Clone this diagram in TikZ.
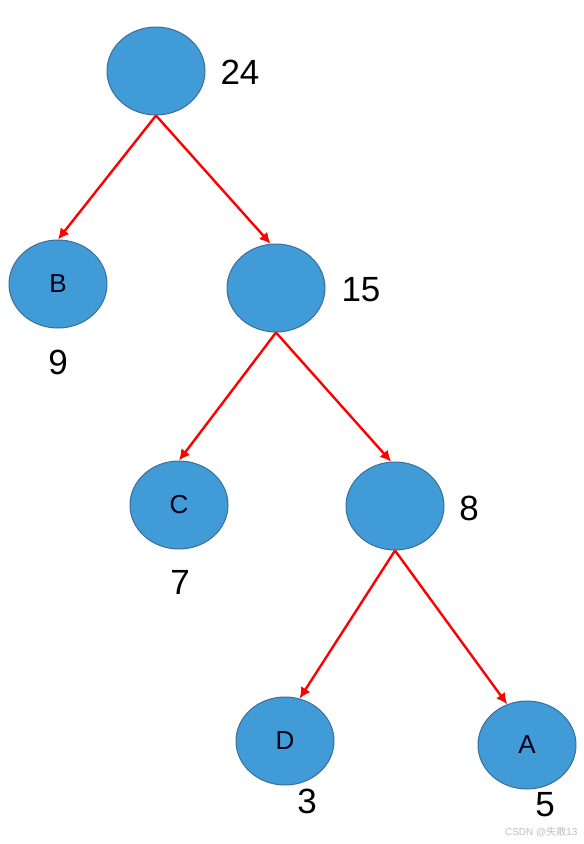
\documentclass[tikz,border=0pt]{standalone}
\usepackage{fontspec}
\setmainfont{Liberation Sans}
\newfontfamily\cjk{Noto Sans CJK SC}
\usetikzlibrary{shapes.geometric, arrows.meta}
\definecolor{knotblue}{HTML}{409BD7}
\definecolor{knotedge}{HTML}{3A6E98}
\tikzset{
  knot/.style={ellipse, draw=knotedge, line width=1pt, fill=knotblue, minimum width=98pt, minimum height=88pt, inner sep=0pt, text=black!90!blue, font=\fontsize{26}{30}\selectfont},
  weight/.style={font=\fontsize{35}{40}\selectfont},
  link/.style={->, red, line width=2.4pt}
}
\begin{document}
\begin{tikzpicture}[>={Latex[length=11pt,width=11pt]}, x=1pt, y=-1pt]
\useasboundingbox (0,0) rectangle (584,844);
% Knoten
\node[knot] (root) at (156,71) {};
\node[knot] (nb) at (58,284) {B};
\node[knot] (n15) at (276,288) {};
\node[knot] (nc) at (179,505) {C};
\node[knot] (n8) at (395,506) {};
\node[knot] (nd) at (285,741) {D};
\node[knot] (na) at (527,745) {A};
% Gewichte
\node[weight] (w24) at (240,72) {24};
\node[weight] (w9) at (58,362) {9};
\node[weight] (w15) at (361,290) {15};
\node[weight] (w7) at (180,582) {7};
\node[weight] (w8) at (469,508) {8};
\node[weight] (w3) at (307,801) {3};
\node[weight] (w5) at (545,805) {5};
% Kanten
\draw[link] (root.south) -- (nb.north);
\draw[link] (root.south) -- (n15.97);
\draw[link] (n15.south) -- (nc.north);
\draw[link] (n15.south) -- (n8.95);
\draw[link] (n8.south) -- (nd.71);
\draw[link] (n8.south) -- (na.116);
% Wasserzeichen
\node[text=black!25, font=\fontsize{10}{12}\selectfont, anchor=east] (mark) at (581,832) {CSDN @{\cjk 失散}13};
\end{tikzpicture}
\end{document}
